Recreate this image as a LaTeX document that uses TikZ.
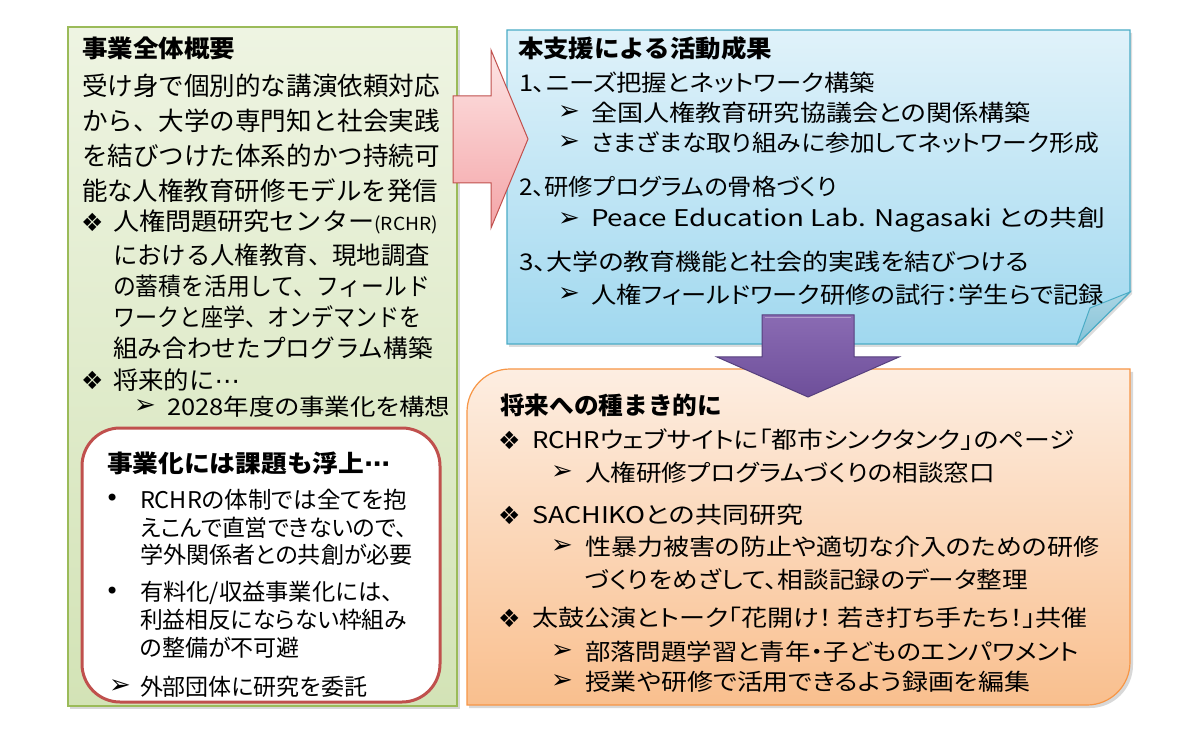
\documentclass[tikz,border=0pt]{standalone}
\usepackage{fontspec}
\usepackage{graphicx}
\newfontfamily\jp{Noto Sans CJK JP}
\newfontfamily\jpp[RawFeature=+palt]{Noto Sans CJK JP}
\newfontfamily\sym{DejaVu Sans}
\definecolor{gTop}{HTML}{EEF4E2}
\definecolor{gBot}{HTML}{D3E3B6}
\definecolor{gEdge}{HTML}{9BBB59}
\definecolor{bTop}{HTML}{E0F2FA}
\definecolor{bBot}{HTML}{A0D8EF}
\definecolor{bEdge}{HTML}{4BACC6}
\definecolor{bFold}{HTML}{86C3D8}
\definecolor{oTop}{HTML}{FDEEE2}
\definecolor{oBot}{HTML}{F9BF8E}
\definecolor{oEdge}{HTML}{F79646}
\definecolor{rEdge}{HTML}{C0504D}
\definecolor{pkTop}{HTML}{FDE4E4}
\definecolor{pkBot}{HTML}{F4A5A8}
\definecolor{puTop}{HTML}{8A6BB3}
\definecolor{puBot}{HTML}{6E4F9A}
\definecolor{puEdge}{HTML}{56407D}
\newcommand\fw[2]{\resizebox{#1pt}{\height}{#2}}
\newcommand\midell{{\sym ⋯}}
\begin{document}
\begin{tikzpicture}[x=1pt,y=-1pt,
  txt/.style={anchor=west,inner sep=0pt,outer sep=0pt},
  ttl/.style={txt,font=\jp\bfseries\fontsize{24}{28}\selectfont},
  gbody/.style={txt,font=\jp\fontsize{25.5}{30}\selectfont},
  gsub/.style={txt,font=\jp\fontsize{24.5}{30}\selectfont},
  sbody/.style={txt,font=\jpp\fontsize{23}{28}\selectfont},
  bbody/.style={txt,font=\jpp\fontsize{23}{28}\selectfont},
  dia/.style={txt,font=\sym\fontsize{25}{26}\selectfont},
  arr/.style={txt,font=\sym\fontsize{26}{28}\selectfont},
  dot/.style={txt,font=\sym\fontsize{24}{26}\selectfont}]
\useasboundingbox (0,0) rectangle (1200,735);
\fill[white] (0,0) rectangle (1200,735);

% ---------- green box ----------
\fill[black!30,opacity=.5] (70,30) rectangle (460,709);
\shadedraw[top color=gTop,bottom color=gBot,draw=gEdge,line width=1.2pt] (68,27) rectangle (457,706);

% ---------- blue box ----------
\fill[black!30,opacity=.45] (509,33) -- (1132,33) -- (1132,294) -- (1079,347) -- (509,347) -- cycle;
\shadedraw[top color=bTop,bottom color=bBot,draw=bEdge,line width=1.2pt]
  (507,30) -- (1130,30) -- (1130,292) -- (1077,344) -- (507,344) -- cycle;
\shadedraw[top color=bFold!70,bottom color=bFold,draw=bEdge,line width=1pt]
  (1130,292) -- (1077,344) -- (1090,308) -- cycle;

% ---------- orange box ----------
\fill[black!30,opacity=.5] (469,708) -- (469,415) arc(180:270:43) -- (1133,372) -- (1133,665) arc(0:90:43) -- cycle;
\shadedraw[top color=oTop,bottom color=oBot,draw=oEdge,line width=1.2pt]
  (467,705) -- (467,412) arc(180:270:43) -- (1130,369) -- (1130,662) arc(0:90:43) -- cycle;

% ---------- red rounded box ----------
\draw[fill=white,draw=rEdge,line width=3pt,rounded corners=38pt] (82,428) rectangle (440,702);

% ---------- red block arrow ----------
\shadedraw[top color=pkTop,bottom color=pkBot,draw=rEdge,line width=1pt]
  (453,96) -- (491,96) -- (491,50) -- (528,139) -- (491,228) -- (491,183) -- (453,183) -- cycle;

% ---------- purple block arrow ----------
\shadedraw[top color=puTop,bottom color=puBot,draw=puEdge,line width=1pt]
  (762,315) -- (854,315) -- (854,357) -- (899,357) -- (808,397) -- (717,357) -- (762,357) -- cycle;
\draw[white,opacity=.35,line width=1pt] (765,318) -- (851,318);

% ---------- green text ----------
\node[ttl] (gt) at (82,48) {\fw{153}{事業全体概要}};
\node[gbody] (g1) at (82,86) {\fw{358}{受け身で個別的な講演依頼対応}};
\node[gbody] (g2) at (82,121) {\fw{358}{から、大学の専門知と社会実践}};
\node[gbody] (g3) at (82,156) {\fw{358}{を結びつけた体系的かつ持続可}};
\node[gbody] (g4) at (82,191) {\fw{356}{能な人権教育研修モデルを発信}};
\node[dia] (gd1) at (81,222) {❖};
\node[gsub] (g5) at (113,222) {\fw{325}{人権問題研究センター{\fontsize{18}{20}\selectfont(RCHR)}}};
\node[gsub] (g6) at (113,255) {\fw{317}{における人権教育、現地調査}};
\node[gsub] (g7) at (113,286) {\fw{317}{の蓄積を活用して、フィールド}};
\node[gsub] (g8) at (113,317) {\fw{309}{ワークと座学、オンデマンドを}};
\node[gsub] (g9) at (113,348) {\fw{320}{組み合わせたプログラム構築}};
\node[dia] (gd2) at (81,380) {❖};
\node[gsub] (g10) at (113,380) {\fw{127}{将来的に\midell}};
\node[arr] (ga1) at (134,407) {➢};
\node[sbody] (g11) at (167,407) {\fw{283}{2028年度の事業化を構想}};

% ---------- red box text ----------
\node[ttl] (rt) at (107,463) {\fw{283}{事業化には課題も浮上\midell}};
\node[dot] (rd1) at (105,500) {•};
\node[sbody] (r1) at (140,500) {\fw{267}{RCHRの体制では全てを抱}};
\node[sbody] (r2) at (140,528) {\fw{267}{えこんで直営できないので、}};
\node[sbody] (r3) at (140,555) {\fw{273}{学外関係者との共創が必要}};
\node[dot] (rd2) at (105,593) {•};
\node[sbody] (r4) at (140,593) {\fw{253}{有料化/収益事業化には、}};
\node[sbody] (r5) at (140,620) {\fw{267}{利益相反にならない枠組み}};
\node[sbody] (r6) at (140,648) {\fw{160}{の整備が不可避}};
\node[arr] (ra1) at (109,687) {➢};
\node[sbody] (r7) at (140,687) {\fw{227}{外部団体に研究を委託}};

% ---------- blue text ----------
\node[ttl] (bt) at (518,48) {\fw{254}{本支援による活動成果}};
\node[bbody] (b1) at (519,83) {\fw{356}{1、ニーズ把握とネットワーク構築}};
\node[arr] (ba1) at (558,113) {➢};
\node[bbody] (b2) at (591,113) {\fw{440}{全国人権教育研究協議会との関係構築}};
\node[arr] (ba2) at (558,143) {➢};
\node[bbody] (b3) at (591,143) {\fw{508}{さまざまな取り組みに参加してネットワーク形成}};
\node[bbody] (b4) at (519,187) {\fw{318}{2、研修プログラムの骨格づくり}};
\node[arr] (ba3) at (558,220) {➢};
\node[bbody] (b5) at (591,220) {\fw{514}{Peace Education Lab. Nagasaki との共創}};
\node[bbody] (b6) at (519,262) {\fw{510}{3、大学の教育機能と社会的実践を結びつける}};
\node[arr] (ba4) at (558,295) {➢};
\node[bbody] (b7) at (591,295) {\fw{513}{人権フィールドワーク研修の試行：学生らで記録}};

% ---------- orange text ----------
\node[ttl] (ot) at (500,405) {\fw{222}{将来への種まき的に}};
\node[dia] (od1) at (498,440) {❖};
\node[bbody] (o1) at (532,440) {\fw{543}{RCHRウェブサイトに「都市シンクタンク」のページ}};
\node[arr] (oa1) at (551,473) {➢};
\node[bbody] (o2) at (585,473) {\fw{410}{人権研修プログラムづくりの相談窓口}};
\node[dia] (od2) at (498,515) {❖};
\node[bbody] (o3) at (532,515) {\fw{271}{SACHIKOとの共同研究}};
\node[arr] (oa2) at (551,547) {➢};
\node[bbody] (o4) at (585,547) {\fw{514}{性暴力被害の防止や適切な介入のための研修}};
\node[bbody] (o5) at (585,580) {\fw{443}{づくりをめざして、相談記録のデータ整理}};
\node[dia] (od3) at (498,618) {❖};
\node[bbody] (o6) at (532,618) {\fw{556}{太鼓公演とトーク「花開け！ 若き打ち手たち！」共催}};
\node[arr] (oa3) at (551,652) {➢};
\node[bbody] (o7) at (585,652) {\fw{494}{部落問題学習と青年・子どものエンパワメント}};
\node[arr] (oa4) at (551,682) {➢};
\node[bbody] (o8) at (585,682) {\fw{445}{授業や研修で活用できるよう録画を編集}};
\end{tikzpicture}
\end{document}
